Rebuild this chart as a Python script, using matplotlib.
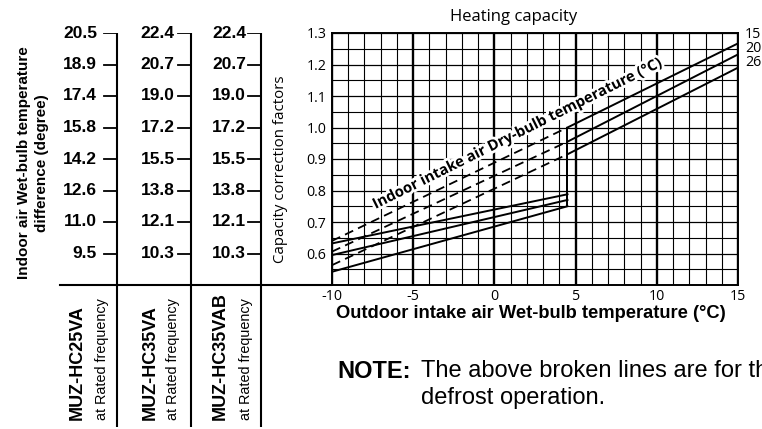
import numpy as np
import matplotlib
matplotlib.use("Agg")
from matplotlib import pyplot as plt
from matplotlib.ticker import MultipleLocator
import matplotlib.patheffects as pe

# Capacity correction factor lines
x_low = [-10, 4.5]
x_high = [4.5, 15]
dry_bulb = ["15", "20", "26"]
low_lines = [[0.632, 0.788], [0.595, 0.770], [0.542, 0.750]]      # solid, defrost side
dash_lines = [[0.640, 1.000], [0.606, 0.955], [0.563, 0.915]]     # broken lines
high_lines = [[1.000, 1.267], [0.955, 1.232], [0.915, 1.190]]     # solid, upper part

cap_ticks = [1.3, 1.2, 1.1, 1.0, 0.9, 0.8, 0.7, 0.6]
x_ticks = [-10, -5, 0, 5, 10, 15]

# Wet-bulb temperature difference table
models = ["MUZ-HC25VA", "MUZ-HC35VA", "MUZ-HC35VAB"]
wb_25 = ["20.5", "18.9", "17.4", "15.8", "14.2", "12.6", "11.0", "9.5"]
wb_35 = ["22.4", "20.7", "19.0", "17.2", "15.5", "13.8", "12.1", "10.3"]
wb_35b = ["22.4", "20.7", "19.0", "17.2", "15.5", "13.8", "12.1", "10.3"]
table_cols = [wb_25, wb_35, wb_35b]

W, H = 762, 429
fig = plt.figure(figsize=(W / 100, H / 100), dpi=100)

chart_font = "Open Sans"
table_font = "Liberation Sans"

# main chart, pixel box 332..738 x 33..285
L, R, T, B = 332, 738, 33, 285
ax = fig.add_axes([L / W, (H - B) / H, (R - L) / W, (B - T) / H])
ax.set_xlim(-10, 15)
ax.set_ylim(0.5, 1.3)
ax.set_xticks(x_ticks)
ax.set_yticks(cap_ticks)
ax.xaxis.set_minor_locator(MultipleLocator(1))
ax.yaxis.set_minor_locator(MultipleLocator(0.05))
ax.grid(which="minor", color="black", lw=0.8)
ax.grid(which="major", axis="y", color="black", lw=0.9)
ax.grid(which="major", axis="x", color="black", lw=1.7)
ax.set_axisbelow(True)
ax.tick_params(which="both", length=0)
ax.tick_params(axis="x", pad=3, labelsize=10.3)
ax.tick_params(axis="y", pad=4, labelsize=10.3)
ax.set_xticklabels([str(v) for v in x_ticks])
for lab in ax.get_xticklabels() + ax.get_yticklabels():
    lab.set_fontfamily(chart_font)
for s in ax.spines.values():
    s.set_linewidth(1.4)

for lo, da, hi in zip(low_lines, dash_lines, high_lines):
    ax.plot(x_low, lo, color="black", lw=1.4, zorder=3)
    ax.plot(x_low, da, color="black", lw=1.3, linestyle=(0, (5, 3)), zorder=3)
    ax.plot([x_low[1], x_high[0]], [lo[1], hi[0]], color="black", lw=1.4, zorder=3)
    ax.plot(x_high, hi, color="black", lw=1.4, zorder=3)

for i, lab in enumerate(dry_bulb):
    ax.text(1.017, 0.996 - i * 0.056, lab, transform=ax.transAxes, ha="left",
            va="center", fontsize=10.3, fontfamily=chart_font)

ax.text(1.42, 0.98, "Indoor intake air Dry-bulb temperature (°C)", rotation=26.5,
        rotation_mode="anchor", ha="center", va="center", fontsize=10.7,
        fontweight="bold", fontfamily=chart_font, zorder=4,
        path_effects=[pe.withStroke(linewidth=4, foreground="white")])

ax.text(0.447, 1.062, "Heating capacity", transform=ax.transAxes, ha="center",
        va="center", fontsize=12, fontfamily=chart_font)
ax.set_ylabel("Capacity correction factors", fontsize=10.8, fontfamily=chart_font)
ax.yaxis.set_label_coords(-0.108, 0.46)
ax.text(0.49, -0.115, "Outdoor intake air Wet-bulb temperature (°C)",
        transform=ax.transAxes, ha="center", va="center", fontsize=13.2,
        fontweight="bold", fontfamily=table_font)

# left table, same vertical scale as the chart
px = 0.8 / (B - T)
tab = fig.add_axes([0, 0, L / W, (H - T) / H])
tab.set_xlim(0, L)
tab.set_ylim(0.5 - (H - B) * px, 1.3)
tab.axis("off")
bottom = 0.5 - (H - B - 2) * px

col_x = [117, 190.5, 261]
gaps = [7, 3, 2]
for cx, gap, vals in zip(col_x, gaps, table_cols):
    tab.plot([cx, cx], [1.3, bottom], color="black", lw=1.5, solid_capstyle="butt")
    for y, v in zip(cap_ticks, vals):
        tab.plot([cx - 13, cx], [y, y], color="black", lw=1.3)
        tab.text(cx - 13 - gap, y, v, ha="right", va="center", fontsize=12.5,
                 fontweight="bold", fontfamily=table_font)
tab.plot([60, L], [0.5, 0.5], color="black", lw=1.5)

lab_x = [(77, 102), (150, 173), (220, 246)]
for (bx, rx), m in zip(lab_x, models):
    tab.text(bx, bottom + 7 * px, m, rotation=90, ha="center", va="bottom",
             fontsize=13, fontweight="bold", fontfamily=table_font)
    tab.text(rx, bottom + 7 * px, "at Rated frequency", rotation=90, ha="center",
             va="bottom", fontsize=10.4, fontfamily=table_font)

fig.text(33 / W, 1 - 163 / H, "Indoor air Wet-bulb temperature\ndifference (degree)",
         rotation=90, ha="center", va="center", multialignment="center",
         fontsize=11, fontweight="bold", fontfamily=table_font, linespacing=1.3)

fig.text(337 / W, 1 - 371 / H, "NOTE:", ha="left", va="center", fontsize=17,
         fontweight="bold", fontfamily=table_font)
fig.text(421 / W, 1 - 371 / H, "The above broken lines are for the", ha="left",
         va="center", fontsize=17, fontfamily=table_font)
fig.text(421 / W, 1 - 398 / H, "defrost operation.", ha="left", va="center",
         fontsize=17, fontfamily=table_font)

fig.savefig("out.png", dpi=100)
